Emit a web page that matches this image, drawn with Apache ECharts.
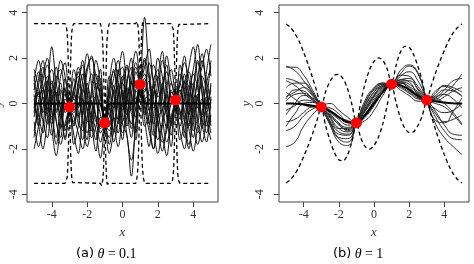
<!DOCTYPE html>
<html><head><meta charset="utf-8">
<script src="https://cdn.jsdelivr.net/npm/echarts@6/dist/echarts.min.js"></script>
<style>html,body{margin:0;padding:0;background:#fff}#c{width:474px;height:264px}</style>
</head><body><div id="c"></div>
<script>
// ---------- Data ----------
// Observed points (same in both panels)
const obsX = [-3, -1, 1, 3];
const obsY = [-0.15, -0.85, 0.85, 0.15];
const xTicks = [-4, -2, 0, 2, 4];
const yTicks = [-4, -2, 0, 2, 4];

// Panel (a) theta = 0.1
const xA = [-5,-4.75,-4.5,-4.25,-4,-3.75,-3.5,-3.25,-3,-2.75,-2.5,-2.25,-2,-1.75,-1.5,-1.25,-1,-0.75,-0.5,-0.25,0,0.25,0.5,0.75,1,1.25,1.5,1.75,2,2.25,2.5,2.75,3,3.25,3.5,3.75,4,4.25,4.5,4.75,5];
const sampA1 = [0.6,1.4,0.2,-0.9,0.5,1.6,0.3,-1.2,-0.15,1.1,-0.4,-1.6,0.2,1.3,0.7,-0.5,-0.85,0.4,1.5,0.1,-1.3,-0.6,0.9,1.8,0.85,-0.7,-1.9,0.3,1.2,-0.2,-1.1,0.6,0.15,1.7,0.4,-1.0,-0.3,1.1,2.2,0.5,-0.8];
const sampA2 = [-1.2,-0.3,1.0,1.7,0.4,-0.8,-1.5,0.2,-0.15,-1.0,0.8,1.9,0.5,-0.9,-2.1,-0.6,-0.85,-1.8,-0.4,1.2,2.3,0.6,-1.1,-0.2,0.85,2.0,1.1,-0.5,-1.6,-0.8,0.7,1.5,0.15,-1.2,-2.0,-0.4,1.3,0.7,-0.9,-1.7,0.3];
const sampA3 = [0.2,-0.9,-2.0,-0.7,0.9,0.4,-0.6,1.1,-0.15,-1.4,-2.2,-0.3,1.4,2.1,0.6,-1.0,-0.85,0.5,-0.7,-1.9,-0.5,1.0,1.6,-0.3,0.85,3.8,1.4,-0.2,0.5,1.9,0.8,-0.9,0.15,0.9,-0.6,-1.8,-0.7,0.4,-0.5,1.4,2.6];
const sampA4 = [1.5,0.7,-0.4,0.6,2.5,0.9,-0.2,-1.0,-0.15,0.7,1.2,0.1,-1.3,-0.5,0.9,0.3,-0.85,-2.2,-1.2,0.3,0.9,-0.4,-1.5,0.6,0.85,-0.4,0.6,1.7,0.9,-0.6,-1.7,-0.9,0.15,0.8,1.8,1.1,-0.2,-1.3,-0.4,0.9,1.6];
const sampA5 = [-0.4,0.8,1.6,0.5,-1.1,-2.3,-0.9,0.4,-0.15,0.5,-0.2,1.0,2.2,0.8,-0.6,-1.7,-0.85,0.2,1.1,1.9,0.4,-1.4,-2.5,-1.0,0.85,0.3,-0.8,-2.0,-0.6,0.8,1.4,0.2,0.15,-0.5,0.4,1.6,2.5,1.0,-0.6,-0.2,0.8];
const sampA6 = [0.9,-0.5,-1.3,0.3,1.0,-0.4,1.2,1.8,-0.15,-0.8,0.3,-0.9,-1.9,-0.8,0.5,1.5,-0.85,-0.3,0.6,-0.7,-0.1,1.6,0.5,-0.6,0.85,1.1,-0.3,0.4,2.0,1.2,-0.4,-1.4,0.15,-0.4,-1.5,0.2,0.9,-0.2,1.2,0.6,-1.0];
const sampA7 = [-2.0,-1.0,0.3,-0.6,-1.4,0.2,0.9,-0.4,-0.15,0.3,1.6,0.9,-0.3,-1.5,-1.0,0.2,-0.85,-1.2,0.0,0.8,-0.9,-1.4,-3.2,-0.8,0.85,-0.2,-1.2,-2.0,-0.6,-0.3,0.4,-0.7,0.15,0.6,-0.3,-1.1,-2.1,-1.0,0.2,-0.4,-1.3];
const sampA8 = [1.0,1.9,0.8,-0.3,0.6,-0.7,-1.8,-0.9,-0.15,0.4,-0.6,0.5,1.6,2.0,1.2,0.3,-0.85,0.9,2.0,1.0,-0.3,0.2,1.3,2.3,0.85,-1.0,-0.5,0.8,-0.3,-1.4,-2.3,-0.6,0.15,1.3,0.7,-0.5,0.5,1.8,1.0,-0.7,-1.6];
const sampA9 = [-0.8,-1.9,-1.0,0.9,1.5,0.3,-0.5,0.6,-0.15,-0.6,-1.3,-2.0,-0.6,0.4,1.3,0.6,-0.85,-1.5,-0.6,-1.3,0.2,0.7,-0.3,1.0,0.85,0.5,1.8,1.0,-0.9,-2.1,-0.9,0.9,0.15,-1.0,0.1,0.8,-0.8,-1.8,-0.9,0.3,-0.2];
const sampA10 = [0.3,0.4,1.3,2.0,-0.2,-1.5,-0.3,-1.6,-0.15,1.5,0.6,-0.5,0.7,-0.4,-1.2,-2.4,-0.85,0.6,1.4,0.5,-0.8,0.3,0.9,0.2,0.85,1.6,2.4,0.9,0.3,0.6,2.1,1.0,0.15,-1.6,-0.9,0.5,1.5,2.6,0.4,-1.0,0.2];
const sampA11 = [-1.5,0.1,0.7,-0.2,-0.6,1.1,1.5,0.5,-0.15,-0.4,0.9,1.7,0.4,0.1,-0.6,-1.1,-0.85,-0.1,-1.7,-0.8,1.0,1.7,0.1,-1.3,0.85,0.0,-0.9,1.0,1.5,0.3,-0.6,-1.9,0.15,0.4,1.0,-0.6,-1.5,0.3,0.8,-0.1,0.6];
const sampA12 = [0.0,-0.7,0.5,1.2,0.1,-0.3,0.6,0.0,-0.15,-1.8,-1.0,0.2,-0.8,0.6,1.9,0.9,-0.85,-0.6,0.5,1.3,1.6,-0.2,-0.9,1.4,0.85,0.2,0.4,-1.1,-2.2,-1.0,-0.1,0.3,0.15,-0.3,-1.2,-2.0,0.0,0.9,1.6,2.4,1.2];
const sampA13 = [0.4,-1.0,-0.2,1.0,-0.4,-1.8,-0.6,0.7,-0.15,0.6,1.4,-0.6,-1.6,0.3,0.2,-1.3,-0.85,1.2,0.4,-0.9,0.6,-1.0,0.3,1.6,0.85,-0.5,0.2,-0.9,1.1,2.3,0.2,-1.0,0.15,0.2,1.3,-0.1,-1.2,-0.6,1.9,1.0,0.0];
const sampA14 = [-0.6,0.5,-0.8,-1.5,0.2,0.8,1.9,1.2,-0.15,-0.9,-0.1,0.6,-0.2,-1.2,0.4,1.1,-0.85,-0.4,-1.3,0.4,1.2,0.2,-0.4,-1.6,0.85,1.3,-0.2,-1.4,-0.2,0.9,-0.3,0.5,0.15,-0.7,0.9,1.4,0.3,-0.8,-1.7,-0.6,0.9];
const sampA15 = [1.2,0.3,0.6,-0.4,-0.9,0.5,-0.3,-1.5,-0.15,0.2,-0.9,-1.2,0.9,0.0,-0.8,0.7,-0.85,-1.0,0.8,-0.3,-1.6,0.8,2.0,0.7,0.85,0.6,1.0,0.1,-1.0,0.4,1.7,0.3,0.15,0.6,-0.8,-0.9,0.7,1.9,0.5,-1.3,-0.5];
const sampA16 = [-0.2,1.1,1.9,0.1,-0.7,0.0,-1.1,-0.2,-0.15,-0.3,0.5,1.3,0.1,-0.6,-1.6,-0.9,-0.85,0.1,-0.2,1.5,0.3,-0.5,1.0,0.5,0.85,1.9,0.1,0.7,-0.7,-1.7,-1.2,0.0,0.15,1.0,2.1,0.4,-0.6,0.2,-1.1,0.1,1.9];
const samplesA = [sampA1,sampA2,sampA3,sampA4,sampA5,sampA6,sampA7,sampA8,sampA9,sampA10,sampA11,sampA12,sampA13,sampA14,sampA15,sampA16];

const xBandA = [-5,
  -3.25,-3.18,-3.13,-3.1,-3.07,-3.04,-3,-2.96,-2.93,-2.9,-2.87,-2.82,-2.75,
  -1.25,-1.18,-1.13,-1.1,-1.07,-1.04,-1,-0.96,-0.93,-0.9,-0.87,-0.82,-0.75,
  0.75,0.82,0.87,0.9,0.93,0.96,1,1.04,1.07,1.1,1.13,1.18,1.25,
  2.75,2.82,2.87,2.9,2.93,2.96,3,3.04,3.07,3.1,3.13,3.18,3.25,
  5];
const meanA = [0,
  0,-0.03,-0.06,-0.09,-0.12,-0.14,-0.15,-0.14,-0.12,-0.09,-0.06,-0.03,0,
  0,-0.17,-0.35,-0.51,-0.68,-0.8,-0.85,-0.8,-0.68,-0.51,-0.35,-0.17,0,
  0,0.17,0.35,0.51,0.68,0.8,0.85,0.8,0.68,0.51,0.35,0.17,0,
  0,0.03,0.06,0.09,0.12,0.14,0.15,0.14,0.12,0.09,0.06,0.03,0,
  0];
const upperA = [3.52,
  3.52,3.42,3.14,2.71,1.98,1.06,-0.15,1.06,1.98,2.71,3.14,3.42,3.52,
  3.52,3.28,2.85,2.29,1.42,0.4,-0.85,0.4,1.42,2.29,2.85,3.28,3.52,
  3.52,3.62,3.55,3.31,2.78,2.0,0.85,2.0,2.78,3.31,3.55,3.62,3.52,
  3.52,3.48,3.26,2.89,2.22,1.34,0.15,1.34,2.22,2.89,3.26,3.48,3.52,
  3.52];
const lowerA = [-3.52,
  -3.52,-3.48,-3.26,-2.89,-2.22,-1.34,-0.15,-1.34,-2.22,-2.89,-3.26,-3.48,-3.52,
  -3.52,-3.62,-3.55,-3.31,-2.78,-2.0,-0.85,-2.0,-2.78,-3.31,-3.55,-3.62,-3.52,
  -3.52,-3.28,-2.85,-2.29,-1.42,-0.4,0.85,-0.4,-1.42,-2.29,-2.85,-3.28,-3.52,
  -3.52,-3.42,-3.14,-2.71,-1.98,-1.06,0.15,-1.06,-1.98,-2.71,-3.14,-3.42,-3.52,
  -3.52];

// Panel (b) theta = 1
const xBandB = [-5,-4.75,-4.5,-4.25,-4,-3.75,-3.5,-3.25,-3,-2.75,-2.5,-2.25,-2,-1.75,-1.5,-1.25,-1,-0.75,-0.5,-0.25,0,0.25,0.5,0.75,1,1.25,1.5,1.75,2,2.25,2.5,2.75,3,3.25,3.5,3.75,4,4.25,4.5,4.75,5];
const meanB = [0,0,-0.01,-0.02,-0.04,-0.07,-0.1,-0.12,-0.15,-0.23,-0.33,-0.46,-0.6,-0.72,-0.81,-0.86,-0.85,-0.72,-0.5,-0.26,0,0.26,0.5,0.72,0.85,0.86,0.81,0.72,0.6,0.46,0.33,0.23,0.15,0.12,0.1,0.07,0.04,0.02,0.01,0,0];
const upperB = [3.5,3.35,3.09,2.73,2.26,1.73,1.15,0.53,-0.15,0.52,0.97,1.24,1.28,1.08,0.64,-0.06,-0.85,0.08,0.9,1.49,1.85,2.01,1.9,1.52,0.85,1.66,2.26,2.52,2.48,2.16,1.63,0.98,0.15,0.77,1.35,1.87,2.34,2.77,3.11,3.35,3.5];
const lowerB = [-3.5,-3.35,-3.11,-2.77,-2.34,-1.87,-1.35,-0.77,-0.15,-0.98,-1.63,-2.16,-2.48,-2.52,-2.26,-1.66,-0.85,-1.52,-1.9,-2.01,-1.85,-1.49,-0.9,-0.08,0.85,0.06,-0.64,-1.08,-1.28,-1.24,-0.97,-0.52,0.15,-0.53,-1.15,-1.73,-2.26,-2.73,-3.09,-3.35,-3.5];

const xB = [-5,-4.5,-4,-3.5,-3,-2.5,-2,-1.5,-1,-0.5,0,0.5,1,1.5,2,2.5,3,3.5,4,4.5,5];
const sampB1 = [1.65,1.45,1.0,0.45,-0.15,-0.75,-1.25,-1.35,-0.85,-0.1,0.5,0.8,0.85,1.05,1.1,0.75,0.15,-0.45,-0.8,-0.7,-0.5];
const sampB2 = [1.6,1.6,1.25,0.6,-0.15,-0.9,-1.5,-1.55,-0.85,0.0,0.6,0.85,0.85,1.2,1.4,1.0,0.15,-0.6,-1.2,-1.55,-1.6];
const sampB3 = [1.1,1.0,0.75,0.35,-0.15,-0.55,-0.9,-1.05,-0.85,-0.3,0.3,0.7,0.85,0.95,0.85,0.5,0.15,0.1,0.3,0.55,0.7];
const sampB4 = [1.0,0.8,0.45,0.15,-0.15,-0.4,-0.7,-0.95,-0.85,-0.45,0.1,0.6,0.85,0.8,0.6,0.35,0.15,0.2,0.45,0.8,1.3];
const sampB5 = [0.7,0.9,0.9,0.5,-0.15,-0.85,-1.35,-1.4,-0.85,-0.2,0.4,0.75,0.85,1.3,1.65,1.3,0.15,-0.9,-1.5,-1.9,-2.25];
const sampB6 = [0.5,0.2,-0.05,-0.15,-0.15,-0.3,-0.6,-0.85,-0.85,-0.55,-0.05,0.5,0.85,0.6,0.35,0.1,0.15,0.35,0.6,0.55,0.3];
const sampB7 = [0.3,0.5,0.7,0.4,-0.15,-0.8,-1.55,-1.7,-0.85,0.15,0.7,0.9,0.85,0.95,0.7,0.3,0.15,0.3,0.4,0.2,-0.2];
const sampB8 = [0.1,0.4,0.45,0.2,-0.15,-0.5,-0.85,-1.2,-0.85,-0.25,0.35,0.75,0.85,1.25,1.2,0.6,0.15,0.0,-0.15,-0.5,-0.95];
const sampB9 = [-0.3,-0.1,0.15,0.1,-0.15,-0.6,-1.1,-1.25,-0.85,-0.1,0.5,0.85,0.85,0.7,0.45,0.2,0.15,0.45,0.8,0.7,0.5];
const sampB10 = [-0.5,0.0,0.35,0.25,-0.15,-0.95,-1.7,-1.85,-0.85,0.05,0.65,0.9,0.85,1.05,0.95,0.4,0.15,0.55,0.75,0.6,0.35];
const sampB11 = [-0.8,-0.7,-0.4,-0.15,-0.15,-0.45,-0.95,-1.15,-0.85,-0.35,0.2,0.65,0.85,0.9,0.75,0.45,0.15,-0.35,-0.95,-1.35,-1.4];
const sampB12 = [-1.0,-0.45,0.0,0.05,-0.15,-0.35,-0.6,-0.75,-0.85,-0.6,-0.1,0.5,0.85,0.75,0.5,0.25,0.15,0.2,0.0,-0.4,-0.9];
const sampB13 = [-1.2,-1.0,-0.55,-0.25,-0.15,-0.2,-0.45,-0.8,-0.85,-0.5,0.1,0.6,0.85,1.0,1.0,0.65,0.15,-0.25,-0.4,-0.3,0.0];
const sampB14 = [-1.9,-1.7,-1.0,-0.5,-0.15,0.0,-0.3,-0.6,-0.85,-0.75,-0.3,0.35,0.85,0.9,0.65,0.4,0.15,0.25,0.6,1.0,1.1];
const sampB15 = [0.2,0.6,0.55,0.2,-0.15,-0.65,-1.1,-1.1,-0.85,-0.3,0.3,0.8,0.85,1.45,1.7,1.35,0.15,-0.75,-0.85,-0.35,0.25];
const samplesB = [sampB1,sampB2,sampB3,sampB4,sampB5,sampB6,sampB7,sampB8,sampB9,sampB10,sampB11,sampB12,sampB13,sampB14,sampB15];

// ---------- Chart ----------
const zip = (xs, ys) => xs.map((x, i) => [x, ys[i]]);
const SERIF = "'Liberation Serif', serif";
const boxColor = '#444';

function axesFor(idx, labelMargin, nameGapY) {
  const xa = {
    type: 'value', gridIndex: idx, min: -5.4, max: 5.4,
    axisLine: { show: false, onZero: false },
    splitLine: { show: false },
    axisTick: { show: true, length: 5, customValues: xTicks, lineStyle: { color: boxColor } },
    axisLabel: { customValues: xTicks, margin: 7, fontFamily: SERIF, fontSize: 12, color: '#333' },
    name: 'x', nameLocation: 'middle', nameGap: 19,
    nameTextStyle: { fontFamily: SERIF, fontStyle: 'italic', fontSize: 13, color: '#333' }
  };
  const ya = {
    type: 'value', gridIndex: idx, min: -4.34, max: 4.34,
    axisLine: { show: false, onZero: false },
    splitLine: { show: false },
    axisTick: { show: true, length: 5, customValues: yTicks, lineStyle: { color: boxColor } },
    axisLabel: { customValues: yTicks, rotate: 90, margin: labelMargin, fontFamily: SERIF, fontSize: 12, color: '#333' },
    name: 'y', nameLocation: 'middle', nameGap: nameGapY, nameRotate: 90,
    nameTextStyle: { fontFamily: SERIF, fontStyle: 'italic', fontSize: 13, color: '#333' }
  };
  return [xa, ya];
}
const [xa0, ya0] = axesFor(0, 7, 23);
const [xa1, ya1] = axesFor(1, 13, 26);

const series = [];
samplesA.forEach(s => series.push({
  type: 'line', xAxisIndex: 0, yAxisIndex: 0, data: zip(xA, s), showSymbol: false,
  smooth: 0.35, lineStyle: { color: '#111', width: 1 }, z: 2
}));
series.push({ type: 'line', xAxisIndex: 0, yAxisIndex: 0, data: zip(xBandA, meanA), showSymbol: false,
  lineStyle: { color: '#000', width: 2 }, z: 3 });
[upperA, lowerA].forEach(b => series.push({ type: 'line', xAxisIndex: 0, yAxisIndex: 0, data: zip(xBandA, b), showSymbol: false,
  lineStyle: { color: '#000', width: 1.3, type: [4, 3] }, z: 4 }));
series.push({ type: 'scatter', xAxisIndex: 0, yAxisIndex: 0, data: zip(obsX, obsY), symbol: 'circle', symbolSize: 11,
  itemStyle: { color: '#ff0000', borderWidth: 0, opacity: 1 }, zlevel: 1, z: 10 });

samplesB.forEach(s => series.push({
  type: 'line', xAxisIndex: 1, yAxisIndex: 1, data: zip(xB, s), showSymbol: false,
  smooth: 0.5, lineStyle: { color: '#2a2a2a', width: 1 }, z: 2
}));
series.push({ type: 'line', xAxisIndex: 1, yAxisIndex: 1, data: zip(xBandB, meanB), showSymbol: false,
  smooth: 0.4, lineStyle: { color: '#000', width: 2 }, z: 3 });
[upperB, lowerB].forEach(b => series.push({ type: 'line', xAxisIndex: 1, yAxisIndex: 1, data: zip(xBandB, b), showSymbol: false,
  smooth: 0.3, lineStyle: { color: '#000', width: 1.3, type: [4, 3] }, z: 4 }));
series.push({ type: 'scatter', xAxisIndex: 1, yAxisIndex: 1, data: zip(obsX, obsY), symbol: 'circle', symbolSize: 11,
  itemStyle: { color: '#ff0000', borderWidth: 0, opacity: 1 }, zlevel: 1, z: 10 });

const capRich = {
  s: { fontFamily: 'DejaVu Sans', fontSize: 13, color: '#222' },
  m: { fontFamily: SERIF, fontStyle: 'italic', fontSize: 14, color: '#222' },
  n: { fontFamily: SERIF, fontSize: 14, color: '#222' }
};

const chart = echarts.init(document.getElementById('c'), null, { renderer: 'canvas' });
chart.setOption({
  animation: false,
  backgroundColor: '#fff',
  grid: [
    { left: 27, top: 5, width: 191, height: 197, show: true, borderColor: boxColor, borderWidth: 1, backgroundColor: 'transparent', outerBoundsMode: 'none', containLabel: false },
    { left: 279, top: 5, width: 190, height: 197, show: true, borderColor: boxColor, borderWidth: 1, backgroundColor: 'transparent', outerBoundsMode: 'none', containLabel: false }
  ],
  xAxis: [xa0, xa1],
  yAxis: [ya0, ya1],
  series: series,
  graphic: [
    { type: 'text', left: 76, top: 247, style: { text: '{s|(a)} {m|θ} {n|= 0.1}', rich: capRich } },
    { type: 'text', left: 333, top: 247, style: { text: '{s|(b)} {m|θ} {n|= 1}', rich: capRich } }
  ]
});
</script>
</body></html>
